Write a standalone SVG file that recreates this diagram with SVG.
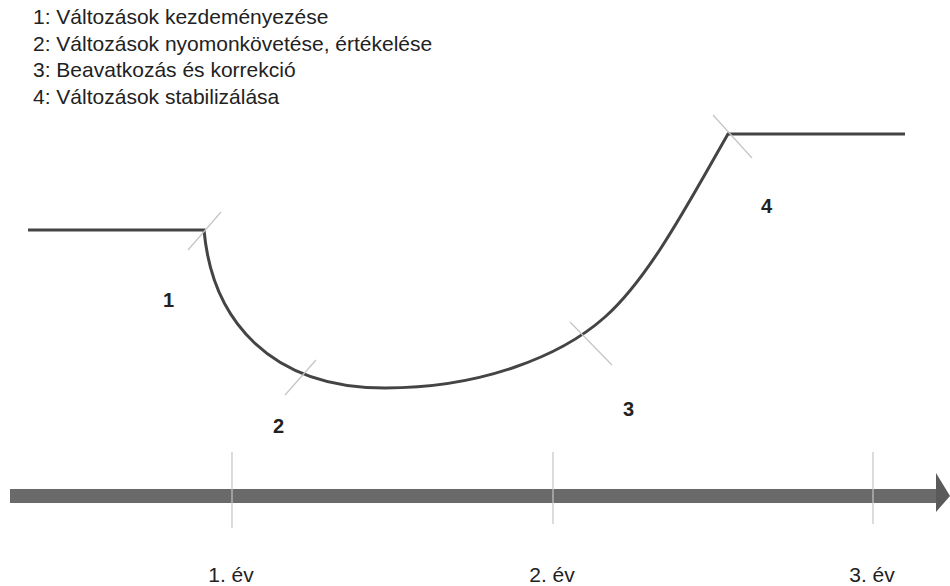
<svg xmlns="http://www.w3.org/2000/svg" width="950" height="586" viewBox="0 0 950 586">
<style>
.t{font-family:"Liberation Sans",Arial,sans-serif;font-size:21px;fill:#222}
.n{font-family:"Liberation Sans",Arial,sans-serif;font-size:20px;font-weight:bold;fill:#222}
.tick{stroke:#c4c4c4;stroke-width:1.2;fill:none}
.curve{stroke:#444;stroke-width:3;fill:none;stroke-linejoin:miter}
</style>
<rect width="950" height="586" fill="#fff"/>
<g id="legend">
<text class="t" x="33" y="24">1: Változások kezdeményezése</text>
<text class="t" x="33" y="51">2: Változások nyomonkövetése, értékelése</text>
<text class="t" x="33" y="77">3: Beavatkozás és korrekció</text>
<text class="t" x="33" y="104">4: Változások stabilizálása</text>
</g>
<g id="connectors">
<path id="change-curve" class="curve" d="M28,230 L204,230 C212,320 270,388 385,388 C480,388 560,357 605,317 C650,277 690,200 728,134 L905,134"/>
<line class="tick" x1="188" y1="250" x2="221" y2="212"/>
<line class="tick" x1="285" y1="395" x2="316" y2="360"/>
<line class="tick" x1="570" y1="322" x2="612" y2="365"/>
<line class="tick" x1="713" y1="115" x2="752" y2="158"/>
</g>
<g id="phase-labels">
<text class="n" x="163" y="307">1</text>
<text class="n" x="273" y="433">2</text>
<text class="n" x="623" y="416">3</text>
<text class="n" x="761" y="213">4</text>
</g>
<g id="timeline">
<rect x="10" y="489" width="930" height="14" fill="#6a6a6a"/>
<polygon points="936,473 950,496 936,512" fill="#5a5a5a"/>
<line class="tick" x1="232" y1="452" x2="232" y2="528"/>
<line class="tick" x1="553" y1="452" x2="553" y2="524"/>
<line class="tick" x1="873" y1="452" x2="873" y2="524"/>
<text class="t" x="231" y="582" text-anchor="middle">1. év</text>
<text class="t" x="552" y="582" text-anchor="middle">2. év</text>
<text class="t" x="872" y="582" text-anchor="middle">3. év</text>
</g>
</svg>
